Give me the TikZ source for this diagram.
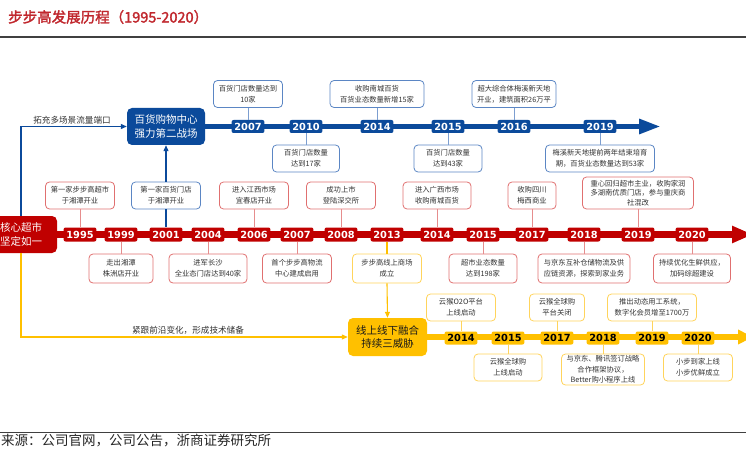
\documentclass[tikz,border=0pt]{standalone}
\usepackage{fontspec}
\setmainfont{Noto Sans CJK SC}
\newfontfamily\yearfont{DejaVu Sans}
\newfontfamily\titlefont{Noto Sans CJK SC}[FakeBold=2]
\usetikzlibrary{arrows.meta}
\definecolor{bbBlue}{HTML}{0B4A9B}
\definecolor{bbBlueLine}{HTML}{5B86C4}
\definecolor{bbRed}{HTML}{C00000}
\definecolor{bbRedLine}{HTML}{E07070}
\definecolor{bbYel}{HTML}{FFC000}
\definecolor{bbYelLine}{HTML}{FFD45C}
\definecolor{bbTitle}{HTML}{C0272D}

\begin{document}
\begin{tikzpicture}[x=1pt,y=-1pt,
  info/.style={draw, rounded corners=4pt, fill=white, align=center, text=black!80,
    font=\fontsize{7.3}{11}\selectfont, inner sep=1.5pt, line width=0.8pt, minimum height=27pt},
  blueinfo/.style={info, draw=bbBlueLine},
  redinfo/.style={info, draw=bbRedLine},
  yelinfo/.style={info, draw=bbYelLine},
  yearlab/.style={rounded corners=2pt, font=\yearfont\bfseries\fontsize{9.8}{10}\selectfont,
    inner xsep=2.8pt, inner ysep=0pt},
  blueyear/.style={yearlab, fill=bbBlue, text=white, minimum height=13pt},
  redyear/.style={yearlab, fill=bbRed, text=white, minimum height=14pt},
  yelyear/.style={yearlab, fill=bbYel, text=black, minimum height=13pt},
  bigbox/.style={rounded corners=5pt, align=center, font=\fontsize{10.5}{13.5}\selectfont, inner sep=0pt},
  bluetie/.style={bbBlueLine!80, line width=0.7pt},
  redtie/.style={bbRedLine!80, line width=0.7pt},
  yeltie/.style={bbYelLine, line width=0.7pt},
  bluelink/.style={bbBlue, line width=1.1pt},
  yellink/.style={bbYel, line width=1.1pt},
  linknote/.style={font=\fontsize{8.6}{10}\selectfont, text=black!80, inner sep=1pt}]
\useasboundingbox (0,0) rectangle (746,449);

% title and rules
\node[anchor=west, text=bbTitle, font=\titlefont\fontsize{14.5}{17}\selectfont, inner sep=0pt] (title) at (8,17) {步步高发展历程（1995-2020）};
\draw[black!75, line width=1.2pt] (0,37) -- (746,37);
\draw[black!75, line width=1pt] (0,432) -- (746,432);
\node[anchor=west, text=black!85, font=\fontsize{13.5}{15}\selectfont, inner sep=0pt] (source) at (1,441) {来源：公司官网，公司公告，浙商证券研究所};

% the three main boxes
\node[bigbox, fill=bbRed, text=white, minimum width=72pt, minimum height=37pt] (core) at (21,234.5) {核心超市\\坚定如一};
\node[bigbox, fill=bbBlue, text=white, minimum width=78pt, minimum height=37pt] (hub) at (166,126.5) {百货购物中心\\强力第二战场};
\node[bigbox, fill=bbYel, text=black!90, minimum width=79pt, minimum height=38pt] (fusion) at (387.5,337) {线上线下融合\\持续三威胁};

% timeline bars
\coordinate (bluetip) at (661,126.5);
\coordinate (redtip) at (753,234.5);
\coordinate (yeltip) at (753,337);
\draw[bbBlue, line width=5.5pt, -{Triangle[length=22pt,width=14pt]}] (hub.east) -- (bluetip);
\draw[bbRed, line width=7pt, -{Triangle[length=21pt,width=16pt]}] (core.east) -- (redtip);
\draw[bbYel, line width=6.5pt, -{Triangle[length=15pt,width=14pt]}] (fusion.east) -- (yeltip);

% blue years
\node[blueyear] (b2007) at (248,126.5) {2007};
\node[blueyear] (b2010) at (306,126.5) {2010};
\node[blueyear] (b2014) at (377,126.5) {2014};
\node[blueyear] (b2015) at (448,126.5) {2015};
\node[blueyear] (b2016) at (514,126.5) {2016};
\node[blueyear] (b2019) at (600,126.5) {2019};

% red years
\node[redyear] (r1995) at (80,234.5) {1995};
\node[redyear] (r1999) at (121,234.5) {1999};
\node[redyear] (r2001) at (166,234.5) {2001};
\node[redyear] (r2004) at (208,234.5) {2004};
\node[redyear] (r2006) at (254,234.5) {2006};
\node[redyear] (r2007) at (297,234.5) {2007};
\node[redyear] (r2008) at (341,234.5) {2008};
\node[redyear] (r2013) at (387,234.5) {2013};
\node[redyear] (r2014) at (437,234.5) {2014};
\node[redyear] (r2015) at (483,234.5) {2015};
\node[redyear] (r2017) at (532,234.5) {2017};
\node[redyear] (r2018) at (584,234.5) {2018};
\node[redyear] (r2019) at (638,234.5) {2019};
\node[redyear] (r2020) at (692,234.5) {2020};

% yellow years
\node[yelyear] (y2014) at (461,338) {2014};
\node[yelyear] (y2015) at (508,338) {2015};
\node[yelyear] (y2017) at (557,338) {2017};
\node[yelyear] (y2018) at (603,338) {2018};
\node[yelyear] (y2019) at (652,338) {2019};
\node[yelyear] (y2020) at (698,338) {2020};

% blue events
\node[blueinfo, minimum width=69pt] (bt2007) at (248,94) {百货门店数量达到\\10家};
\node[blueinfo, minimum width=94pt] (bt2014) at (377,94) {收购南城百货\\百货业态数量新增15家};
\node[blueinfo, minimum width=84pt] (bt2016) at (514,94) {超大综合体梅溪新天地\\开业，建筑面积26万平};
\node[blueinfo, minimum width=67pt] (bb2010) at (306,158.5) {百货门店数量\\达到17家};
\node[blueinfo, minimum width=68pt] (bb2015) at (448,158.5) {百货门店数量\\达到43家};
\node[blueinfo, minimum width=109pt] (bb2019) at (600,158.5) {梅溪新天地提前两年结束培育\\期，百货业态数量达到53家};
\draw[bluetie] (bt2007) -- (b2007);
\draw[bluetie] (bt2014) -- (b2014);
\draw[bluetie] (bt2016) -- (b2016);
\draw[bluetie] (bb2010) -- (b2010);
\draw[bluetie] (bb2015) -- (b2015);
\draw[bluetie] (bb2019) -- (b2019);

% red events
\node[redinfo, minimum width=69pt] (rt1995) at (80,195.5) {第一家步步高超市\\于湘潭开业};
\node[blueinfo, minimum width=69pt] (rt2001) at (166,195.5) {第一家百货门店\\于湘潭开业};
\node[redinfo, minimum width=69pt] (rt2006) at (254,195.5) {进入江西市场\\宜春店开业};
\node[redinfo, minimum width=69pt] (rt2008) at (341,195.5) {成功上市\\登陆深交所};
\node[redinfo, minimum width=68pt] (rt2014) at (437,195.5) {进入广西市场\\收购南城百货};
\node[redinfo, minimum width=48pt] (rt2017) at (532,195.5) {收购四川\\梅西商业};
\node[redinfo, minimum width=111pt, minimum height=32pt, font=\fontsize{7.3}{9.3}\selectfont] (rt2019) at (638,193) {重心回归超市主业，收购家润\\多湖南优质门店，参与重庆商\\社混改};
\node[redinfo, minimum width=64pt, minimum height=29pt] (rb1999) at (121,268.5) {走出湘潭\\株洲店开业};
\node[redinfo, minimum width=78pt, minimum height=29pt] (rb2004) at (208,268.5) {进军长沙\\全业态门店达到40家};
\node[redinfo, minimum width=69pt, minimum height=29pt] (rb2007) at (297,268.5) {首个步步高物流\\中心建成启用};
\node[yelinfo, minimum width=69pt, minimum height=29pt] (rb2013) at (387,268.5) {步步高线上商场\\成立};
\node[redinfo, minimum width=68pt, minimum height=29pt] (rb2015) at (483,268.5) {超市业态数量\\达到198家};
\node[redinfo, minimum width=92pt, minimum height=29pt] (rb2018) at (584,268.5) {与京东互补仓储物流及供\\应链资源，探索到家业务};
\node[redinfo, minimum width=77pt, minimum height=29pt] (rb2020) at (692,268.5) {持续优化生鲜供应，\\加码综超建设};
\draw[redtie] (rt1995) -- (r1995);
\draw[bluelink] (rt2001) -- (r2001);
\draw[redtie] (rt2006) -- (r2006);
\draw[redtie] (rt2008) -- (r2008);
\draw[redtie] (rt2014) -- (r2014);
\draw[redtie] (rt2017) -- (r2017);
\draw[redtie] (rt2019) -- (r2019);
\draw[redtie] (rb1999) -- (r1999);
\draw[redtie] (rb2004) -- (r2004);
\draw[redtie] (rb2007) -- (r2007);
\draw[yellink] (rb2013) -- (r2013);
\draw[redtie] (rb2015) -- (r2015);
\draw[redtie] (rb2018) -- (r2018);
\draw[redtie] (rb2020) -- (r2020);

% yellow events
\node[yelinfo, minimum width=69pt] (yt2014) at (461,307.5) {云猴O2O平台\\上线启动};
\node[yelinfo, minimum width=55pt] (yt2017) at (557,307.5) {云猴全球购\\平台关闭};
\node[yelinfo, minimum width=89pt] (yt2019) at (652,307.5) {推出动态用工系统，\\数字化会员增至1700万};
\node[yelinfo, minimum width=68pt] (yb2015) at (508,367.5) {云猴全球购\\上线启动};
\node[yelinfo, minimum width=83pt, minimum height=31pt, inner ysep=0pt, font=\fontsize{7.3}{10.5}\selectfont] (yb2018) at (603,369.5) {与京东、腾讯签订战略\\合作框架协议，\\Better购小程序上线};
\node[yelinfo, minimum width=69pt] (yb2020) at (698,367.5) {小步到家上线\\小步优鲜成立};
\draw[yeltie] (yt2014) -- (y2014);
\draw[yeltie] (yt2017) -- (y2017);
\draw[yeltie] (yt2019) -- (y2019);
\draw[yeltie] (yb2015) -- (y2015);
\draw[yeltie] (yb2018) -- (y2018);
\draw[yeltie] (yb2020) -- (y2020);

% links between the three lines
\draw[bluelink, -{Triangle[length=6pt,width=5pt]}] (core.north) |- (hub.west);
\draw[yellink, -{Triangle[length=6pt,width=5pt]}] (core.south) |- (fusion.west);
\draw[bluelink, -{Triangle[length=6pt,width=5pt]}] (rt2001.north) -- (hub.south);
\draw[yellink, -{Triangle[length=6pt,width=5pt]}] (rb2013.south) -- (fusion.north);
\node[linknote, anchor=south] (expand) at (72,125) {拓充多场景流量端口};
\node[linknote, anchor=south] (follow) at (188,335.5) {紧跟前沿变化，形成技术储备};
\end{tikzpicture}
\end{document}
